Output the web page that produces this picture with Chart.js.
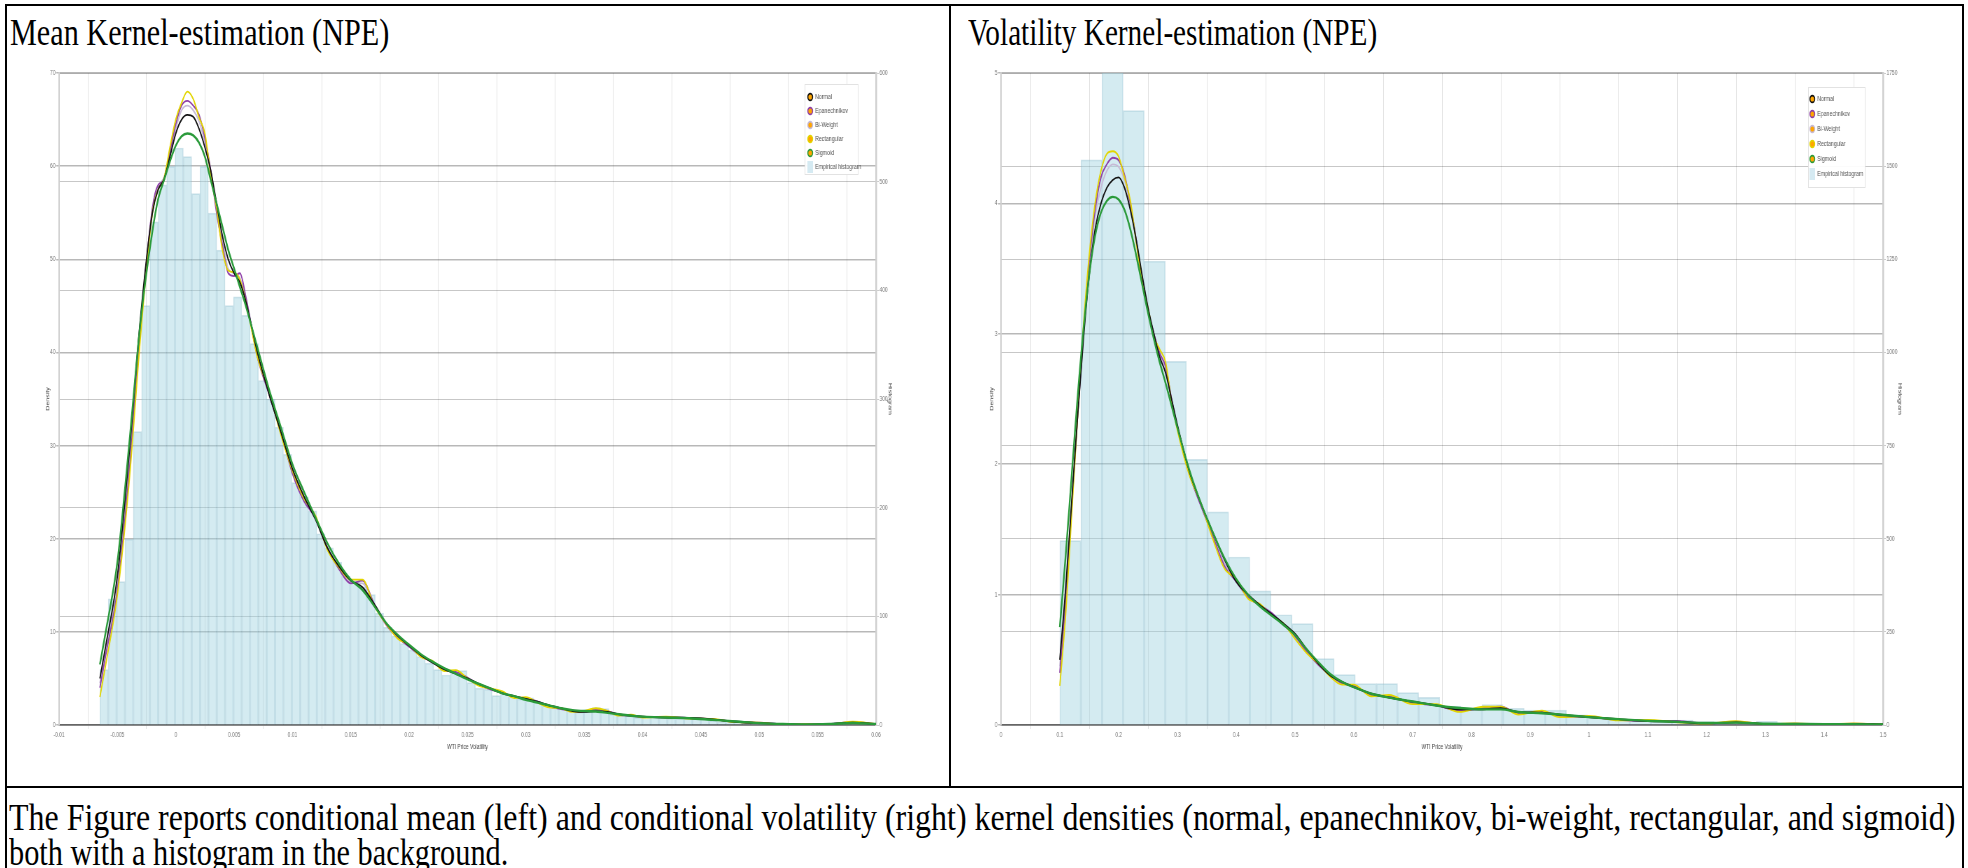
<!DOCTYPE html>
<html>
<head>
<meta charset="utf-8">
<script src="https://cdn.jsdelivr.net/npm/chart.js@4.4.0/dist/chart.umd.min.js"></script>
<style>
  html, body { margin: 0; padding: 0; background: #fff; }
  body { width: 1968px; height: 868px; position: relative; overflow: hidden;
         font-family: "Liberation Serif", "Times New Roman", serif; }
  .rule { position: absolute; background: #000; }
  .txt { position: absolute; white-space: nowrap; font-size: 37px; line-height: 37px;
         color: #000; transform-origin: 0 50%; }
  .plot { position: absolute; top: 60px; transform-origin: 0 0; transform: scaleX(0.7); }
</style>
</head>
<body>
<!-- table frame -->
<div class="rule" style="left:5px;top:4px;width:1959px;height:2px"></div>
<div class="rule" style="left:5px;top:4px;width:2px;height:864px"></div>
<div class="rule" style="left:1962px;top:4px;width:2px;height:864px"></div>
<div class="rule" style="left:949px;top:4px;width:2px;height:783px"></div>
<div class="rule" style="left:5px;top:786px;width:1959px;height:2px"></div>

<div class="txt" style="left:10px;top:14px" data-w="379">Mean Kernel-estimation (NPE)</div>
<div class="txt" style="left:968px;top:14px" data-w="409">Volatility Kernel-estimation (NPE)</div>
<div class="txt" style="left:9px;top:799px" data-w="1946">The Figure reports conditional mean (left) and conditional volatility (right) kernel densities (normal, epanechnikov, bi-weight, rectangular, and sigmoid)</div>
<div class="txt" style="left:9px;top:834px" data-w="499">both with a histogram in the background.</div>

<div class="plot" style="left:8px"><canvas id="meanChart" width="1343" height="720"></canvas></div>
<div class="plot" style="left:952px"><canvas id="volChart" width="1440" height="720"></canvas></div>

<script>
// kernels shown in both panels
const kernelNames = ['Normal', 'Epanechnikov', 'Bi-Weight', 'Rectangular', 'Sigmoid'];
const kernelColors = ['#111111', '#8e3fa8', '#c6bad6', '#e2d500', '#2a9a3a'];
const kernelWidths = [1.8, 1.8, 1.8, 1.8, 2.4];
const kernelOrder = [2, 4, 5, 3, 1];
const histLabel = 'Empirical histogram';

// ---- conditional mean ----
const meanBinStart = -0.0065;
const meanBinWidth = 0.000715;
const meanHist = [51, 116, 132, 171, 270, 386, 463, 497, 514, 531,
  523, 489, 514, 471, 437, 386, 394, 377, 351, 317,
  300, 274, 249, 223, 210, 197, 176, 163, 150, 137,
  133, 127, 120, 103, 90, 82, 75, 69, 63, 57,
  51, 46, 48, 50, 39, 34, 33, 27, 29, 26,
  24, 25, 21, 18, 16, 15, 13, 12, 14, 16,
  15, 10, 9, 9, 7, 8, 8, 7, 6, 6,
  6, 7, 6, 4, 3, 3, 4, 2, 2, 1,
  2, 1, 1, 0, 0, 0, 1, 1, 2, 3,
  3, 1, 1];
const meanGrid = [-0.0065, -0.006, -0.005, -0.004, -0.003, -0.002, -0.0015, -0.001, -0.0005, 0,
  0.0005, 0.001, 0.0015, 0.002, 0.0025, 0.003, 0.0035, 0.004, 0.0045, 0.005,
  0.0055, 0.006, 0.007, 0.008, 0.009, 0.01, 0.011, 0.012, 0.013, 0.014,
  0.015, 0.016, 0.017, 0.018, 0.019, 0.02, 0.021, 0.022, 0.023, 0.024,
  0.025, 0.026, 0.027, 0.028, 0.029, 0.03, 0.031, 0.032, 0.033, 0.034,
  0.035, 0.036, 0.037, 0.038, 0.039, 0.04, 0.042, 0.044, 0.046, 0.048,
  0.05, 0.052, 0.054, 0.056, 0.058, 0.06];
const meanNormal = [5, 8.5, 16, 29, 44, 55, 57.5, 58.6, 61, 63.5,
  65, 65.5, 65.3, 64, 62, 59.5, 56, 52.5, 50, 48.5,
  47.5, 45.5, 40, 35.5, 31.5, 27.5, 24.5, 22, 19, 17,
  15.5, 14.8, 13, 11, 9.6, 8.5, 7.5, 6.7, 6.0, 5.5,
  5.0, 4.4, 3.9, 3.4, 3.1, 2.8, 2.5, 2.1, 1.8, 1.5,
  1.4, 1.5, 1.4, 1.15, 1.0, 0.9, 0.8, 0.75, 0.6, 0.35,
  0.2, 0.1, 0.05, 0.1, 0.25, 0.1];
const meanEpan = [4, 7.5, 14.5, 27, 43, 55.5, 58, 58.5, 61.5, 64.5,
  66.5, 67, 66.5, 65.5, 63, 59.5, 55, 51.5, 48.5, 48.2,
  48.5, 46, 39.5, 35.5, 31.5, 27, 24, 22.2, 19, 16.7,
  15.2, 15.5, 13, 10.8, 9.4, 8.4, 7.4, 6.8, 5.9, 5.7,
  5.1, 4.3, 3.8, 3.5, 3.0, 2.9, 2.5, 2.0, 1.7, 1.5,
  1.4, 1.7, 1.5, 1.1, 1.0, 0.85, 0.85, 0.75, 0.6, 0.35,
  0.25, 0.1, 0.05, 0.1, 0.3, 0.1];
const meanBiweight = [4.5, 8, 15, 28, 43.5, 55, 57.8, 58.8, 61.3, 64,
  66, 66.5, 66, 64.8, 62.5, 59.5, 55.5, 52, 49, 48.5,
  48, 45.8, 39.8, 35.5, 31.5, 27.2, 24.2, 22, 19, 16.8,
  15.3, 15.2, 13, 10.9, 9.5, 8.4, 7.5, 6.7, 6.0, 5.6,
  5.0, 4.4, 3.9, 3.4, 3.1, 2.8, 2.5, 2.1, 1.8, 1.5,
  1.4, 1.6, 1.5, 1.1, 1.0, 0.9, 0.8, 0.75, 0.6, 0.35,
  0.2, 0.1, 0.05, 0.1, 0.25, 0.1];
const meanRect = [3, 6.5, 14, 26, 42, 55, 57.5, 58.7, 62, 65,
  66.8, 68, 67.2, 65.2, 63.5, 59, 55.5, 51, 48.8, 48.6,
  47.8, 45.5, 39.5, 35.8, 31.2, 27.3, 24.3, 22.4, 18.8, 16.9,
  15.6, 15.6, 12.8, 10.9, 9.3, 8.6, 7.3, 6.9, 5.8, 5.9,
  5.0, 4.2, 3.9, 3.6, 2.9, 3.0, 2.4, 1.9, 1.8, 1.4,
  1.5, 1.8, 1.5, 1.0, 1.1, 0.8, 0.9, 0.7, 0.65, 0.3,
  0.25, 0.05, 0.1, 0.05, 0.35, 0.1];
const meanSigmoid = [6.5, 10, 17.5, 30, 43.5, 53, 56.5, 58.5, 60.5, 62.2,
  63.2, 63.5, 63.3, 62.5, 61, 58.5, 56, 53.5, 51, 49,
  47, 45, 40.5, 36, 32, 28, 25, 22.2, 19.5, 17.3,
  15.6, 14.5, 12.8, 11, 9.7, 8.6, 7.6, 6.8, 6.1, 5.5,
  4.9, 4.4, 3.9, 3.4, 3.1, 2.7, 2.4, 2.1, 1.8, 1.6,
  1.5, 1.45, 1.3, 1.15, 1.0, 0.9, 0.8, 0.72, 0.55, 0.38,
  0.2, 0.1, 0.05, 0.1, 0.22, 0.1];

// ---- conditional volatility ----
const volBinStart = 0.1;
const volBinWidth = 1.4 / 39;
const volHist = [495, 1517, 1800, 1649, 1245, 976, 713, 572, 451, 360,
  296, 272, 178, 135, 111, 111, 87, 74, 51, 42,
  55, 45, 40, 40, 27, 20, 15, 12, 10, 13,
  9, 8, 7, 10, 6, 5, 5, 4, 3];
const volGrid = [0.1, 0.11, 0.12, 0.13, 0.14, 0.15, 0.16, 0.17, 0.18, 0.19,
  0.2, 0.21, 0.22, 0.23, 0.24, 0.25, 0.26, 0.27, 0.28, 0.29,
  0.3, 0.32, 0.34, 0.36, 0.38, 0.4, 0.42, 0.44, 0.46, 0.48,
  0.5, 0.52, 0.54, 0.56, 0.58, 0.6, 0.63, 0.66, 0.7, 0.74,
  0.78, 0.82, 0.85, 0.88, 0.92, 0.95, 1.0, 1.05, 1.1, 1.15,
  1.2, 1.25, 1.3, 1.35, 1.4, 1.45, 1.5];
const volNormal = [0.5, 1.05, 1.7, 2.35, 2.95, 3.45, 3.8, 4.0, 4.12, 4.18,
  4.2, 4.12, 3.95, 3.72, 3.45, 3.2, 3.0, 2.82, 2.7, 2.5,
  2.3, 1.95, 1.7, 1.48, 1.27, 1.1, 1.0, 0.92, 0.85, 0.78,
  0.7, 0.58, 0.47, 0.38, 0.33, 0.29, 0.24, 0.21, 0.18, 0.15,
  0.12, 0.12, 0.13, 0.1, 0.095, 0.08, 0.06, 0.045, 0.03, 0.025,
  0.012, 0.02, 0.008, 0.008, 0.006, 0.008, 0.004];
const volEpan = [0.4, 0.95, 1.65, 2.35, 3.0, 3.55, 3.95, 4.2, 4.3, 4.35,
  4.33, 4.22, 4.0, 3.72, 3.42, 3.18, 3.0, 2.85, 2.75, 2.5,
  2.28, 1.93, 1.68, 1.45, 1.22, 1.1, 0.98, 0.92, 0.86, 0.77,
  0.68, 0.56, 0.46, 0.38, 0.32, 0.3, 0.23, 0.22, 0.17, 0.15,
  0.11, 0.13, 0.14, 0.09, 0.1, 0.07, 0.06, 0.04, 0.03, 0.03,
  0.01, 0.025, 0.006, 0.01, 0.005, 0.01, 0.004];
const volBiweight = [0.45, 1.0, 1.68, 2.35, 2.98, 3.5, 3.9, 4.12, 4.25, 4.3,
  4.28, 4.18, 3.98, 3.72, 3.43, 3.19, 3.0, 2.84, 2.72, 2.5,
  2.29, 1.94, 1.69, 1.46, 1.24, 1.1, 0.99, 0.92, 0.85, 0.77,
  0.69, 0.57, 0.46, 0.38, 0.33, 0.29, 0.24, 0.21, 0.18, 0.15,
  0.12, 0.12, 0.13, 0.1, 0.095, 0.075, 0.06, 0.04, 0.03, 0.028,
  0.012, 0.022, 0.008, 0.008, 0.006, 0.008, 0.004];
const volRect = [0.3, 0.85, 1.6, 2.35, 3.05, 3.6, 4.0, 4.25, 4.38, 4.4,
  4.36, 4.2, 4.02, 3.7, 3.4, 3.2, 2.98, 2.88, 2.78, 2.48,
  2.26, 1.92, 1.7, 1.43, 1.2, 1.12, 0.97, 0.93, 0.84, 0.78,
  0.66, 0.55, 0.47, 0.37, 0.31, 0.31, 0.22, 0.23, 0.16, 0.16,
  0.1, 0.14, 0.14, 0.08, 0.11, 0.06, 0.07, 0.035, 0.04, 0.02,
  0.01, 0.03, 0.005, 0.012, 0.004, 0.012, 0.004];
const volSigmoid = [0.75, 1.3, 1.9, 2.5, 3.02, 3.45, 3.75, 3.93, 4.02, 4.05,
  4.03, 3.95, 3.8, 3.6, 3.38, 3.16, 2.96, 2.78, 2.62, 2.45,
  2.28, 1.96, 1.7, 1.48, 1.28, 1.12, 1.0, 0.91, 0.84, 0.77,
  0.69, 0.58, 0.48, 0.39, 0.33, 0.29, 0.24, 0.21, 0.18, 0.15,
  0.13, 0.12, 0.12, 0.1, 0.09, 0.08, 0.06, 0.045, 0.032, 0.024,
  0.015, 0.018, 0.01, 0.008, 0.006, 0.006, 0.004];

const tickFont = { family: '"Liberation Sans", Arial, sans-serif', size: 7 };
// plain numbers: no thousands separator, no padded decimals
const plainTick = v => String(Math.round(v * 1e6) / 1e6);

// legend drawn as a boxed list in the upper right of the plot area
const boxLegend = {
  id: 'boxLegend',
  afterDraw(chart, args, opts) {
    const ctx = chart.ctx;
    ctx.save();
    ctx.fillStyle = 'rgba(255,255,255,0.92)';
    ctx.fillRect(opts.x, opts.y, opts.w, opts.h);
    ctx.strokeStyle = '#e2e2e2';
    ctx.lineWidth = 1;
    ctx.strokeRect(opts.x + 0.5, opts.y + 0.5, opts.w, opts.h);
    ctx.font = '7.5px "Liberation Sans", Arial, sans-serif';
    ctx.textBaseline = 'middle';
    chart.data.datasets.forEach((ds, i) => {
      const y = opts.rowY + i * opts.rowH;
      if (ds.type === 'bar') {
        ctx.fillStyle = '#d5eaf2';
        ctx.fillRect(opts.markX - 4, y - 6, 8, 12);
      } else {
        ctx.beginPath();
        ctx.arc(opts.markX, y, 3.4, 0, Math.PI * 2);
        ctx.fillStyle = ds.backgroundColor;
        ctx.fill();
        ctx.lineWidth = 1.6;
        ctx.strokeStyle = ds.borderColor;
        ctx.stroke();
      }
      ctx.fillStyle = '#555';
      ctx.fillText(ds.label, opts.textX, y);
    });
    ctx.restore();
  }
};

function buildChart(id, o) {
  const lines = o.kernels.map((vals, k) => ({
    type: 'line',
    label: kernelNames[k],
    data: vals.map((v, i) => ({ x: o.grid[i], y: v })),
    yAxisID: 'yDen',
    borderColor: kernelColors[k],
    backgroundColor: 'orange',
    borderWidth: kernelWidths[k],
    pointRadius: 0,
    cubicInterpolationMode: 'monotone',
    order: kernelOrder[k]
  }));
  const bars = {
    type: 'bar',
    label: histLabel,
    data: o.hist.map((c, i) => ({ x: o.binStart + (i + 0.5) * o.binWidth, y: c })),
    yAxisID: 'yHist',
    backgroundColor: 'rgba(160, 210, 225, 0.45)',
    borderColor: 'rgba(120, 175, 195, 0.35)',
    borderWidth: 1,
    barPercentage: 1,
    categoryPercentage: 1,
    order: 10
  };
  return new Chart(document.getElementById(id), {
    type: 'bar',
    data: { datasets: lines.concat([bars]) },
    options: {
      responsive: false,
      animation: false,
      devicePixelRatio: 1,
      events: [],
      layout: { padding: o.pad },
      plugins: { legend: { display: false }, tooltip: { enabled: false }, boxLegend: o.legend },
      scales: {
        x: {
          type: 'linear', min: o.xMin, max: o.xMax, offset: false,
          ticks: { stepSize: o.xStep, font: tickFont, color: '#777', padding: 2, maxRotation: 0,
                   autoSkip: false, callback: plainTick },
          grid: { color: 'rgba(0,0,0,0.12)', tickLength: 4 },
          border: { color: '#666', width: 1.5 },
          title: { display: true, text: 'WTI Price Volatility', font: tickFont, color: '#444', padding: { top: 1, bottom: 1 } },
          afterFit: s => { s.height = 27; }
        },
        yDen: {
          position: 'left', min: 0, max: o.denMax,
          ticks: { stepSize: o.denStep, font: tickFont, color: '#777', padding: 1, callback: plainTick },
          grid: { color: 'rgba(0,0,0,0.28)', lineWidth: 1.5, tickLength: 4 },
          border: { color: '#cfcfcf', width: 2 },
          title: { display: true, text: 'Density', font: tickFont, color: '#444', padding: { top: 4, bottom: 4 } },
          afterFit: s => { s.width = o.leftW; }
        },
        yHist: {
          position: 'right', min: 0, max: o.histMax,
          ticks: { stepSize: o.histStep, font: tickFont, color: '#777', padding: 1, callback: plainTick },
          grid: { color: 'rgba(0,0,0,0.22)', lineWidth: 1, tickLength: 4 },
          border: { color: '#cfcfcf', width: 2.5 },
          title: { display: true, text: 'Histogram', font: tickFont, color: '#444', padding: { top: 4, bottom: 4 } },
          afterFit: s => { s.width = o.rightW; }
        }
      }
    },
    plugins: [boxLegend]
  });
}

buildChart('meanChart', {
  grid: meanGrid,
  kernels: [meanNormal, meanEpan, meanBiweight, meanRect, meanSigmoid],
  hist: meanHist, binStart: meanBinStart, binWidth: meanBinWidth,
  xMin: -0.01, xMax: 0.06, xStep: 0.005,
  denMax: 70, denStep: 10, histMax: 600, histStep: 100,
  pad: { left: 48.6, right: 75, top: 13, bottom: 28 },
  leftW: 24.3, rightW: 28,
  legend: { x: 1138, y: 24, w: 76, h: 90, rowY: 37, rowH: 14, markX: 1146, textX: 1153 }
});

buildChart('volChart', {
  grid: volGrid,
  kernels: [volNormal, volEpan, volBiweight, volRect, volSigmoid],
  hist: volHist, binStart: volBinStart, binWidth: volBinWidth,
  xMin: 0, xMax: 1.5, xStep: 0.1,
  denMax: 5, denStep: 1, histMax: 1750, histStep: 250,
  pad: { left: 49, right: 77.5, top: 13, bottom: 28 },
  leftW: 21, rightW: 32.5,
  legend: { x: 1223, y: 27, w: 81, h: 100, rowY: 39, rowH: 15, markX: 1229, textX: 1236 }
});

// squeeze each text run to its measured span
document.querySelectorAll('.txt').forEach(el => {
  el.style.transform = 'scaleX(' + (+el.dataset.w / el.offsetWidth) + ')';
});
</script>
</body>
</html>
